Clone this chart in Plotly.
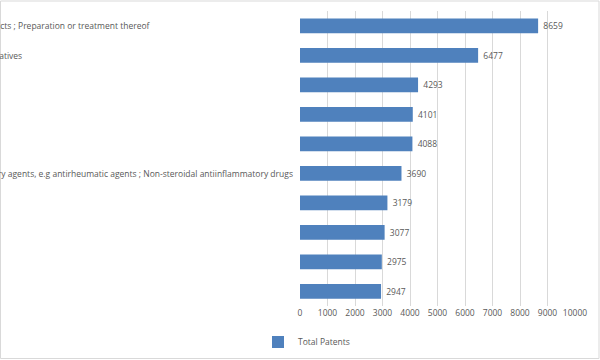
import plotly.graph_objects as go

categories = [
    "Modifying nutritive qualities of foods ; Dietetic products ; Preparation or treatment thereof",
    "Plant extracts, their artificial duplicates or their derivatives",
    "Antineoplastic agents",
    "Magnoliopsida (dicotyledons)",
    "Drugs for disorders of the metabolism",
    "Non-central analgesic, antipyretic or antiinflammatory agents, e.g antirheumatic agents ; Non-steroidal antiinflammatory drugs",
    "Antiinfectives",
    "Drugs for disorders of the alimentary tract",
    "Dermatological agents",
    "Drugs for immunological or allergic disorders",
]
total_patents = [8659, 6477, 4293, 4101, 4088, 3690, 3179, 3077, 2975, 2947]
x_ticks = [0, 1000, 2000, 3000, 4000, 5000, 6000, 7000, 8000, 9000, 10000]
series_name = "Total Patents"

W, H = 600, 360
ML, MR, MT, MB = 300, 25, 11, 54
pw = W - ML - MR
ph = H - MT - MB

def px_x(p):
    return (p - ML) / pw

def px_y(p):
    return (H - MB - p) / ph

FONT = "Open Sans"
TXT = "#595959"
BAR = "#4F81BD"

fig = go.Figure()
fig.add_trace(go.Bar(
    x=total_patents, y=categories, orientation="h", name=series_name,
    marker=dict(color=BAR, line=dict(width=0)),
    text=[" " + str(v) for v in total_patents], textposition="outside",
    textfont=dict(family=FONT, size=8.5, color=TXT),
    cliponaxis=False,
))

annotations = []
for c in categories:
    annotations.append(dict(
        x=px_x(-210), xref="paper", y=c, yref="y", text=c, showarrow=False,
        xanchor="left", yanchor="middle",
        font=dict(family=FONT, size=8.5, color=TXT),
    ))

fig.update_layout(
    width=W, height=H,
    margin=dict(l=ML, r=MR, t=MT, b=MB, pad=0, autoexpand=False),
    paper_bgcolor="white", plot_bgcolor="white",
    bargap=0.5,
    showlegend=True,
    legend=dict(orientation="h", xref="container", yref="container",
                x=258 / W, xanchor="left", y=1 - 342 / H, yanchor="middle",
                font=dict(family=FONT, size=8.5, color=TXT), itemwidth=30,
                bgcolor="rgba(0,0,0,0)"),
    xaxis=dict(range=[0, 10000], tickvals=x_ticks, ticktext=[str(t) for t in x_ticks],
               showgrid=True, gridcolor="#D9D9D9", gridwidth=1, zeroline=False,
               showline=False, ticks="", automargin=False,
               tickfont=dict(family=FONT, size=8.5, color=TXT), fixedrange=True),
    yaxis=dict(autorange="reversed", showticklabels=False, showgrid=False, zeroline=False,
               showline=False, ticks="", automargin=False, fixedrange=True),
    annotations=annotations,
    shapes=[dict(type="rect", xref="paper", yref="paper",
                 x0=px_x(0.5), x1=px_x(599), y0=px_y(358.5), y1=px_y(1),
                 line=dict(color="#D9D9D9", width=1), fillcolor="rgba(0,0,0,0)", layer="below")],
)

fig.write_html("out.html", config={"displayModeBar": False},
               post_script="document.body.style.margin='0';document.body.style.overflow='hidden';")
